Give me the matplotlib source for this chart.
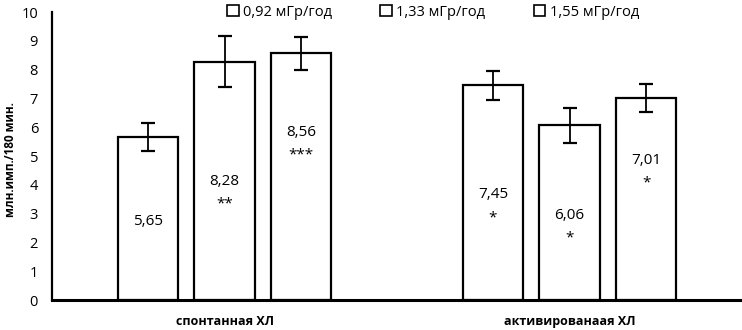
import matplotlib.pyplot as plt
import numpy as np

# data
groups = ['спонтанная ХЛ', 'активированаая ХЛ']
series = ['0,92 мГр/год', '1,33 мГр/год', '1,55 мГр/год']
values = [[5.65, 7.45], [8.28, 6.06], [8.56, 7.01]]
errors = [[0.49, 0.49], [0.89, 0.61], [0.57, 0.49]]
stars = [['', '*'], ['**', '*'], ['***', '*']]

# where the value labels sit inside the bars (y, data units)
label_y = [[2.74, 3.65], [4.13, 2.95], [5.83, 4.86]]

plt.rcParams['font.family'] = ['Open Sans', 'DejaVu Sans']

fig = plt.figure(figsize=(7.42, 3.3), dpi=100)
ax = fig.add_axes([52 / 742, 30 / 330, 690 / 742, 288 / 330])

x = np.arange(len(groups))
w = 0.174
step = 0.222
handles = []
for i in range(len(series)):
    pos = x + (i - 1) * step
    b = ax.bar(pos, values[i], w, color='white', edgecolor='black',
               linewidth=1.6, label=series[i], zorder=2)
    handles.append(b)
    ax.errorbar(pos, values[i], yerr=errors[i], fmt='none', ecolor='black',
                elinewidth=1.3, capsize=5, capthick=1.6, zorder=3)
    for j in range(len(groups)):
        ax.text(pos[j], label_y[i][j], f'{values[i][j]:.2f}'.replace('.', ','),
                ha='center', va='center', fontsize=11)
        if stars[i][j]:
            ax.text(pos[j], label_y[i][j] - 0.8, stars[i][j],
                    ha='center', va='center', fontsize=11)

ax.set_xlim(-0.5, 1.5)
ax.set_ylim(0, 10)
ax.set_yticks(range(0, 11))
ax.set_xticks([])
ax.tick_params(axis='y', length=0, labelsize=10.5, pad=10)
for s in ['top', 'right']:
    ax.spines[s].set_visible(False)
ax.spines['left'].set_linewidth(1.6)
ax.spines['bottom'].set_linewidth(2.2)

for j in range(len(groups)):
    ax.text(x[j], -0.75, groups[j], ha='center', va='center',
            fontsize=9, fontweight='bold')

# y axis title, placed by hand so it is not cut at the edge
fig.text(11 / 742, 1 - 160 / 330, 'млн.имп./180 мин.', rotation=90, ha='center',
         va='center', fontsize=8.5, fontweight='bold')

leg = ax.legend(handles=handles, loc='upper left', bbox_to_anchor=(0.235, 1.07),
                ncol=3, frameon=False, fontsize=10.5, handlelength=0.8,
                handleheight=0.8, handletextpad=0.3, columnspacing=3.3)
for h in leg.legend_handles:
    h.set_linewidth(1.2)

fig.savefig('out.png', dpi=100)
